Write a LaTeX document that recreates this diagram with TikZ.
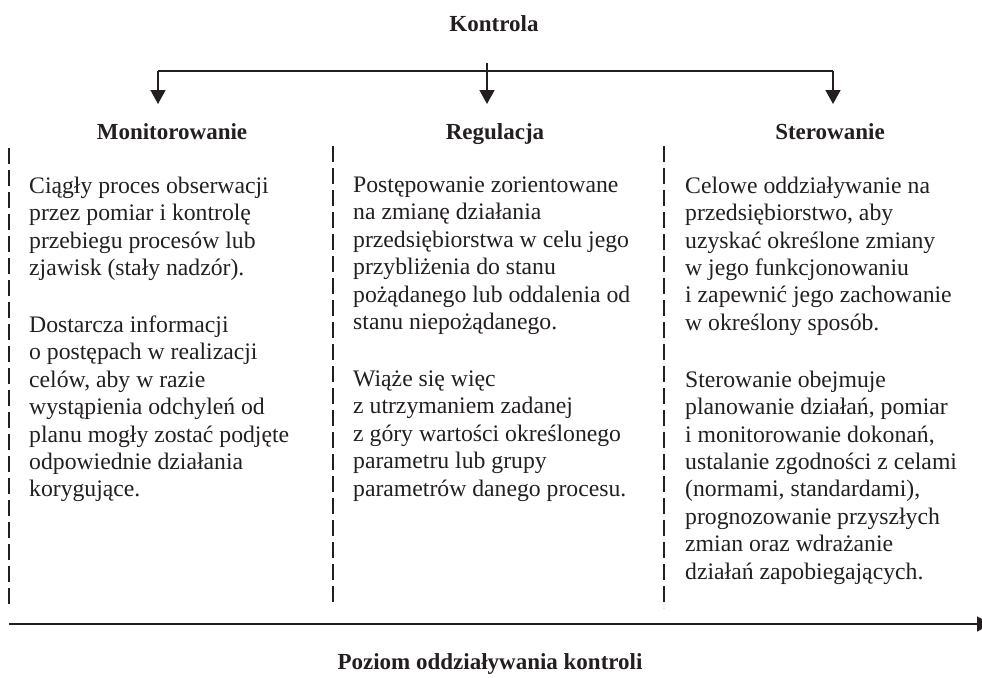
\documentclass[tikz,border=0pt]{standalone}
\usepackage{fontspec}
\setmainfont{Liberation Serif}
\usetikzlibrary{arrows.meta}
\definecolor{ink}{HTML}{231F20}
\begin{document}
\begin{tikzpicture}[x=1pt,y=-1pt,
  body/.style={anchor=north west, inner sep=0pt, align=left, font=\fontsize{23.7}{27.4}\selectfont, text=ink},
  head/.style={anchor=base, inner sep=0pt, font=\fontsize{23}{27}\selectfont\bfseries, text=ink},
  conn/.style={line width=1.6pt, draw=ink},
  tipped/.style={-{Triangle[width=15pt,length=14pt]}},
  divider/.style={line width=1.7pt, draw=ink, dash pattern=on 15.5pt off 6.5pt}]
\useasboundingbox (0,0) rectangle (982,677);

% headings
\node[head] (kon) at (494,32) {Kontrola};
\node[head] (mon) at (172,139) {Monitorowanie};
\node[head] (reg) at (495,139) {Regulacja};
\node[head] (ste) at (830,139) {Sterowanie};
\node[head] (poz) at (490,669) {Poziom oddziaływania kontroli};

% top connectors
\coordinate (ks) at (487,63);
\coordinate (lc) at (158,71);
\coordinate (rc) at (833,71);
\coordinate (lt) at (158,104);
\coordinate (mt) at (487,104);
\coordinate (rt) at (833,104);
\draw[conn] (lc) -- (rc);
\draw[conn,tipped] (ks) -- (mt);
\draw[conn,tipped] (lc) -- (lt);
\draw[conn,tipped] (rc) -- (rt);

% dividers
\coordinate (d1a) at (9,148);   \coordinate (d1b) at (9,606);
\coordinate (d2a) at (333,146); \coordinate (d2b) at (333,606);
\coordinate (d3a) at (664,146); \coordinate (d3b) at (664,608);
\draw[divider] (d1a) -- (d1b);
\draw[divider] (d2a) -- (d2b);
\draw[divider] (d3a) -- (d3b);

% bottom axis
\coordinate (bs) at (9,624);
\coordinate (be) at (991,624);
\draw[conn,tipped] (bs) -- (be);

% column texts
\node[body] (l1) at (29,176.7) {Ciągły proces obserwacji\\przez pomiar i kontrolę\\przebiegu procesów lub\\zjawisk (stały nadzór).};
\node[body] (l2) at (29,315.7) {Dostarcza informacji\\o postępach w realizacji\\celów, aby w razie\\wystąpienia odchyleń od\\planu mogły zostać podjęte\\odpowiednie działania\\korygujące.};
\node[body] (m1) at (353,176.7) {Postępowanie zorientowane\\na zmianę działania\\przedsiębiorstwa w celu jego\\przybliżenia do stanu\\pożądanego lub oddalenia od\\stanu niepożądanego.};
\node[body] (m2) at (353,370.7) {Wiąże się więc\\z utrzymaniem zadanej\\z góry wartości określonego\\parametru lub grupy\\parametrów danego procesu.};
\node[body] (r1) at (685,176.7) {Celowe oddziaływanie na\\przedsiębiorstwo, aby\\uzyskać określone zmiany\\w jego funkcjonowaniu\\i zapewnić jego zachowanie\\w określony sposób.};
\node[body] (r2) at (685,370.7) {Sterowanie obejmuje\\planowanie działań, pomiar\\i monitorowanie dokonań,\\ustalanie zgodności z celami\\(normami, standardami),\\prognozowanie przyszłych\\zmian oraz wdrażanie\\działań zapobiegających.};
\end{tikzpicture}
\end{document}
